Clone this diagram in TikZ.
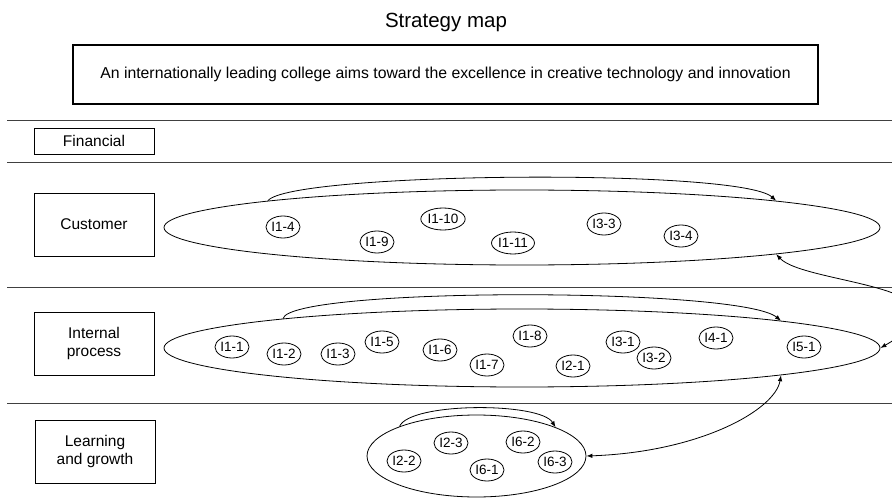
\documentclass[tikz,border=0pt]{standalone}
\usepackage{fontspec}
\setmainfont{Liberation Sans}
\usetikzlibrary{shapes.geometric,arrows.meta}

\tikzset{
  perspective/.style={draw, line width=0.8pt, minimum width=120pt, align=center,
    font=\fontsize{15.5}{18}\selectfont, inner sep=0pt},
  group/.style={draw, ellipse, line width=0.8pt, inner sep=0pt},
  item/.style={draw, ellipse, line width=0.8pt, inner sep=0.3pt,
    minimum width=34pt, minimum height=22pt, font=\fontsize{13.5}{14}\selectfont},
  divider/.style={draw=black!75, line width=0.9pt},
  link/.style={line width=0.8pt, -{Latex[length=6pt,width=4.5pt]}},
  bilink/.style={line width=0.8pt, {Latex[length=6pt,width=4.5pt]}-{Latex[length=6pt,width=4.5pt]}}
}

\begin{document}
\begin{tikzpicture}[x=1pt,y=-1pt]
\useasboundingbox (0,0) rectangle (892,500);

% title and vision statement
\node[font=\fontsize{20.5}{23}\selectfont] (title) at (446,22) {Strategy map};
\node[draw, line width=1.8pt, minimum width=745pt, minimum height=59pt,
      font=\fontsize{15.8}{18}\selectfont] (vision) at (445.5,74.5)
  {An internationally leading college aims toward the excellence in creative technology and innovation};

% perspective separators
\draw[divider] (7,120) -- (892,120);
\draw[divider] (7,162) -- (892,162);
\draw[divider] (7,287) -- (892,287);
\draw[divider] (7,403) -- (892,403);

% perspective labels
\node[perspective, minimum height=26pt] (fin) at (94,141) {Financial};
\node[perspective, minimum height=63pt] (custbox) at (94,224.5) {Customer};
\node[perspective, minimum height=63pt] (procbox) at (94,343.5) {Internal\\process};
\node[perspective, minimum height=63pt] (learnbox) at (95,451.5) {Learning\\and growth};

% objective groups
\node[group, minimum width=716pt, minimum height=75pt] (cust) at (522,227.5) {};
\node[group, minimum width=716pt, minimum height=78pt] (proc) at (522,348) {};
\node[group, minimum width=219pt, minimum height=82pt] (learn) at (476.5,456) {};

% customer objectives
\node[item] (i14)  at (283,227) {I1-4};
\node[item] (i19)  at (377,242) {I1-9};
\node[item] (i110) at (443,219) {I1-10};
\node[item] (i111) at (513,243) {I1-11};
\node[item] (i33)  at (604,224) {I3-3};
\node[item] (i34)  at (681,236) {I3-4};

% internal process objectives
\node[item] (i11) at (232,347) {I1-1};
\node[item] (i12) at (284,354) {I1-2};
\node[item] (i13) at (338,354) {I1-3};
\node[item] (i15) at (382,342) {I1-5};
\node[item] (i16) at (440,350) {I1-6};
\node[item] (i17) at (487,365) {I1-7};
\node[item] (i18) at (530,336) {I1-8};
\node[item] (i21) at (573,366) {I2-1};
\node[item] (i31) at (623,342) {I3-1};
\node[item] (i32) at (654,358) {I3-2};
\node[item] (i41) at (716,338) {I4-1};
\node[item] (i51) at (804,347) {I5-1};

% learning and growth objectives
\node[item] (i22) at (404,461) {I2-2};
\node[item] (i23) at (451,443) {I2-3};
\node[item] (i61) at (487,470) {I6-1};
\node[item] (i62) at (523,442) {I6-2};
\node[item] (i63) at (555,462) {I6-3};

% links within each group
\draw[link] (cust.174) .. controls (290,172) and (740,168) .. (cust.6);
\draw[link] (proc.173.7) .. controls (290,287) and (740,287) .. (proc.6.3);
\draw[link] (learn.159.5) .. controls (410,402) and (540,402) .. (learn.20);

% links between groups
\draw[bilink] (cust.-6) .. controls (805,285) and (990,285) .. (proc.0);
\draw[bilink] (learn.0) .. controls (700,452) and (775,410) .. (proc.-6.2);
\end{tikzpicture}
\end{document}
